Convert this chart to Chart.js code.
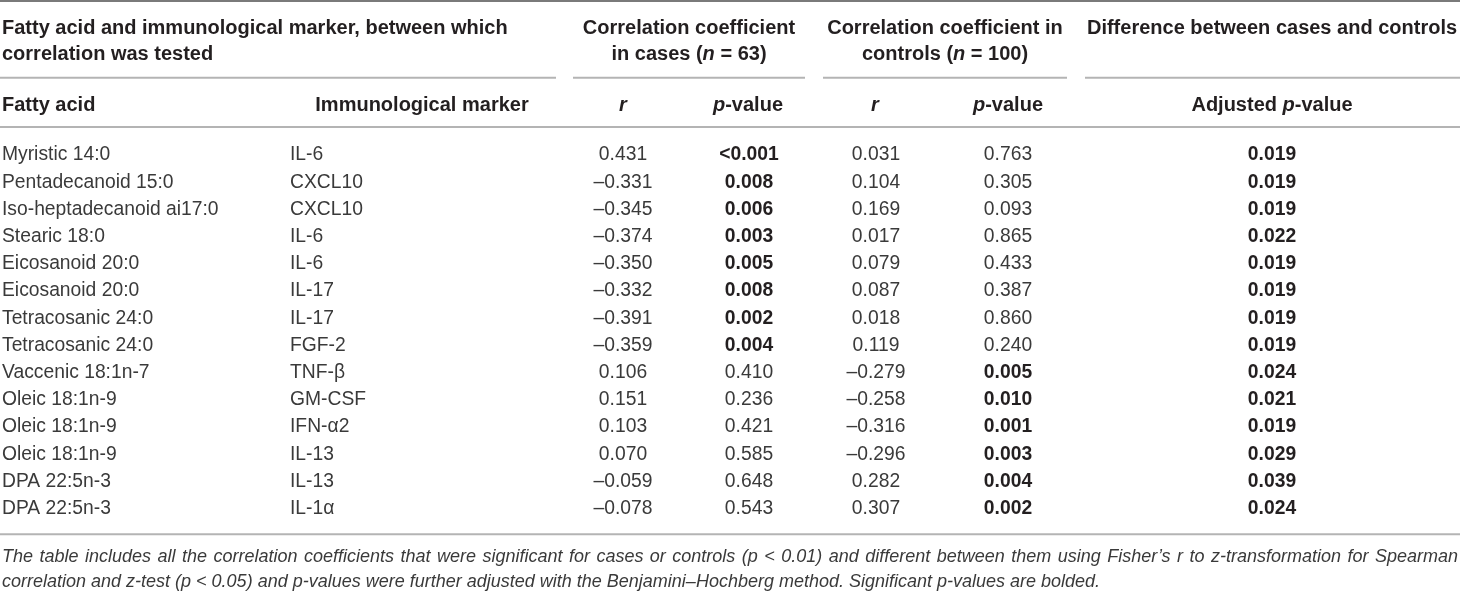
<!DOCTYPE html>
<html>
<head>
<meta charset="utf-8">
<script src="https://cdn.jsdelivr.net/npm/chart.js@4/dist/chart.umd.min.js"></script>
<style>
html,body{margin:0;padding:0;background:#fff;}
#wrap{width:1460px;height:591px;}
</style>
</head>
<body>
<div id="wrap"><canvas id="c" width="1460" height="591"></canvas></div>
<script>
// ---- data ----
const fattyAcids = ['Myristic 14:0','Pentadecanoid 15:0','Iso-heptadecanoid ai17:0','Stearic 18:0','Eicosanoid 20:0','Eicosanoid 20:0','Tetracosanic 24:0','Tetracosanic 24:0','Vaccenic 18:1n-7','Oleic 18:1n-9','Oleic 18:1n-9','Oleic 18:1n-9','DPA 22:5n-3','DPA 22:5n-3'];
const markers = ['IL-6','CXCL10','CXCL10','IL-6','IL-6','IL-17','IL-17','FGF-2','TNF-β','GM-CSF','IFN-α2','IL-13','IL-13','IL-1α'];
const rCases = [0.431,-0.331,-0.345,-0.374,-0.350,-0.332,-0.391,-0.359,0.106,0.151,0.103,0.070,-0.059,-0.078];
const pCases = ['<0.001','0.008','0.006','0.003','0.005','0.008','0.002','0.004','0.410','0.236','0.421','0.585','0.648','0.543'];
const rControls = [0.031,0.104,0.169,0.017,0.079,0.087,0.018,0.119,-0.279,-0.258,-0.316,-0.296,0.282,0.307];
const pControls = ['0.763','0.305','0.093','0.865','0.433','0.387','0.860','0.240','0.005','0.010','0.001','0.003','0.004','0.002'];
const adjP = ['0.019','0.019','0.019','0.022','0.019','0.019','0.019','0.019','0.024','0.021','0.019','0.029','0.039','0.024'];

// ---- text labels ----
const headGroup = {
  pair: [[['Fatty acid and immunological marker, between which',0]],[['correlation was tested',0]]],
  cases: [[['Correlation coefficient',0]],[['in cases (',0],['n',1],[' = 63)',0]]],
  controls: [[['Correlation coefficient in',0]],[['controls (',0],['n',1],[' = 100)',0]]],
  diff: [[['Difference between cases and controls',0]]]
};
const subHeads = [
  [['Fatty acid',0]],
  [['Immunological marker',0]],
  [['r',1]],
  [['p',1],['-value',0]],
  [['r',1]],
  [['p',1],['-value',0]],
  [['Adjusted ',0],['p',1],['-value',0]]
];
const footLine1 = "The table includes all the correlation coefficients that were significant for cases or controls (p < 0.01) and different between them using Fisher\u2019s r to z-transformation for Spearman";
const footLine2 = "correlation and z-test (p < 0.05) and p-values were further adjusted with the Benjamini\u2013Hochberg method. Significant p-values are bolded.";

// ---- layout (x in pixel units of x scale, y in row units of y scale) ----
const L = {
  colX: [2, 290, 623, 749, 876, 1008, 1272],
  colAlign: ['left','left','center','center','center','center','center'],
  subX: [2, 422, 623, 748, 875, 1008, 1272],
  subAlign: ['left','center','center','center','center','center','center'],
  head1: -4.65, head2: -3.70, ruleTop: -5.61, ruleMid: -2.78, sub: -1.82,
  ruleHead: -0.97, ruleBottom: 14.0, foot1: 14.76, foot2: 15.68,
  midSegs: [[0,556],[573,805],[823,1067],[1085,1460]],
  groupX: {pair:2, cases:689, controls:945, diff:1272},
  groupAlign: {pair:'left', cases:'center', controls:'center', diff:'center'},
  textShift: 1.6
};
const FONT = '"Liberation Sans", Arial, sans-serif';
const HEAD_SIZE = 20, CELL_SIZE = 19.3, FOOT_SIZE = 18;
const fmtR = v => (v < 0 ? '\u2013' : '') + Math.abs(v).toFixed(3);
const pNum = s => parseFloat(s.replace('<',''));

const columns = [
  {labels: fattyAcids, bold: () => false},
  {labels: markers, bold: () => false},
  {labels: rCases.map(fmtR), bold: () => false},
  {labels: pCases, bold: s => pNum(s) <= 0.01},
  {labels: rControls.map(fmtR), bold: () => false},
  {labels: pControls, bold: s => pNum(s) <= 0.01},
  {labels: adjP, bold: s => pNum(s) < 0.05}
];

const datasets = columns.map((col, c) => ({
  label: 'col' + c,
  data: col.labels.map((_, i) => ({x: L.colX[c], y: i})),
  pointRadius: 0,
  showLine: false
}));

function drawRuns(ctx, runs, x, y, align, size, weight, color) {
  const fonts = runs.map(r => (r[1] ? 'italic ' : '') + weight + ' ' + size + 'px ' + FONT);
  const widths = runs.map((r, k) => { ctx.font = fonts[k]; return ctx.measureText(r[0]).width; });
  const total = widths.reduce((a, b) => a + b, 0);
  let sx = align === 'center' ? x - total / 2 : (align === 'right' ? x - total : x);
  ctx.fillStyle = color;
  ctx.textAlign = 'left';
  ctx.textBaseline = 'middle';
  runs.forEach((r, k) => { ctx.font = fonts[k]; ctx.fillText(r[0], sx, y + L.textShift); sx += widths[k]; });
}

const tablePlugin = {
  id: 'table',
  afterDatasetsDraw(chart) {
    const ctx = chart.ctx;
    const xs = chart.scales.x, ys = chart.scales.y;
    const X = v => xs.getPixelForValue(v), Y = v => ys.getPixelForValue(v);
    ctx.save();
    const hline = (x0, x1, yv, color, w) => {
      ctx.strokeStyle = color; ctx.lineWidth = w;
      ctx.beginPath(); ctx.moveTo(X(x0), Y(yv)); ctx.lineTo(X(x1), Y(yv)); ctx.stroke();
    };
    hline(0, 1460, L.ruleTop, '#7a7a7a', 2);
    L.midSegs.forEach(s => hline(s[0], s[1], L.ruleMid, '#b4b4b4', 2));
    hline(0, 1460, L.ruleHead, '#b4b4b4', 2);
    hline(0, 1460, L.ruleBottom, '#b4b4b4', 2);
    Object.keys(headGroup).forEach(k => {
      headGroup[k].forEach((line, li) => {
        drawRuns(ctx, line, X(L.groupX[k]), Y(li === 0 ? L.head1 : L.head2), L.groupAlign[k], HEAD_SIZE, 'bold', '#231f20');
      });
    });
    subHeads.forEach((runs, c) => drawRuns(ctx, runs, X(L.subX[c]), Y(L.sub), L.subAlign[c], HEAD_SIZE, 'bold', '#231f20'));
    chart.data.datasets.forEach((ds, c) => {
      const meta = chart.getDatasetMeta(c);
      meta.data.forEach((el, i) => {
        const s = columns[c].labels[i];
        const b = columns[c].bold(s);
        drawRuns(ctx, [[s, 0]], el.x, el.y, L.colAlign[c], CELL_SIZE, b ? 'bold' : 'normal', b ? '#231f20' : '#3a3a3a');
      });
    });
    ctx.font = 'italic ' + FOOT_SIZE + 'px ' + FONT;
    ctx.fillStyle = '#3a3a3a';
    ctx.textBaseline = 'middle';
    ctx.textAlign = 'left';
    const words = footLine1.split(' ');
    const ww = words.map(w => ctx.measureText(w).width);
    const x0 = X(2), x1 = X(1458);
    const gap = (x1 - x0 - ww.reduce((a, b) => a + b, 0)) / (words.length - 1);
    let cx = x0;
    words.forEach((w, k) => { ctx.fillText(w, cx, Y(L.foot1) + L.textShift); cx += ww[k] + gap; });
    ctx.fillText(footLine2, X(2), Y(L.foot2) + L.textShift);
    ctx.restore();
  }
};

new Chart(document.getElementById('c'), {
  type: 'scatter',
  data: {datasets},
  options: {
    responsive: false,
    animation: false,
    devicePixelRatio: 1,
    layout: {padding: 0},
    plugins: {legend: {display: false}, tooltip: {enabled: false}},
    scales: {
      x: {type: 'linear', display: false, min: 0, max: 1460},
      y: {type: 'linear', display: false, reverse: true, min: -5.643, max: 16.085}
    }
  },
  plugins: [tablePlugin]
});
</script>
</body>
</html>
